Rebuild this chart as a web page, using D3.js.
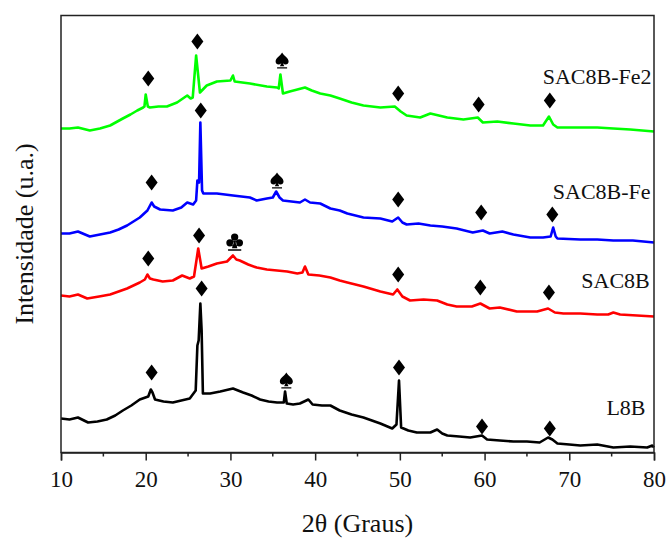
<!DOCTYPE html>
<html>
<head>
<meta charset="utf-8">
<script src="https://cdn.jsdelivr.net/npm/d3@7"></script>
<style>
  body { margin: 0; background: #fff; }
  svg { display: block; }
  text { font-family: "Liberation Serif", "Times New Roman", serif; fill: #111; }
</style>
</head>
<body>
<svg id="chart" width="671" height="539"></svg>
<script>
// 2θ (degrees) vs intensity (arbitrary units, offset per pattern as in the figure)
const l8b = [[10,34],[11,33],[12,35],[13.2,30],[14.3,31],[15.4,33],[16.4,37],[17.3,42],[18.3,47],[19.3,53],[20.3,56],[20.6,63],[20.8,60],[21.1,53],[22.1,51],[23.2,50],[24.2,52],[25.2,54],[25.9,62],[26.1,107],[26.25,112],[26.45,149],[26.6,122],[26.75,59],[27.6,59],[28.8,61],[30.3,64],[31.5,60],[32.5,57],[33.5,53],[34.5,51],[35.5,50],[36.3,50],[36.45,61],[36.65,49],[37.4,48],[38.2,49],[39.2,53],[39.7,48],[40.8,47],[41.8,47],[42.9,42],[44.3,38],[45.7,35],[46.7,32],[47.7,29],[49.1,24],[49.6,28],[49.9,72],[50.15,25],[51,22],[52,20],[53.6,20],[54.4,23],[55,19],[55.6,17],[57,16],[58.3,15],[59.7,17],[60.3,13],[61.8,12],[63.4,11],[65,11],[66.5,10],[67.5,15],[68,13],[68.6,9],[70,8],[71.3,7],[73.3,8],[75.2,5],[77.2,6],[79.2,5],[79.8,7],[80,5]];

const sac8b = [[10,157],[11,156],[12,158],[13.1,154],[14.5,156],[15.8,158],[16.8,161],[17.8,164],[19.3,170],[19.9,173],[20.2,178],[20.5,174],[20.9,173],[22,171],[23.2,172],[24.3,177],[25.2,174],[25.7,176],[26.2,204],[26.6,184],[27.4,186],[28.4,189],[29.6,191],[30.3,197],[30.7,193],[31.1,192],[32.1,188],[33.1,185],[34.3,183],[35.5,182],[36.7,181],[37.9,179],[38.5,180],[38.8,186],[39.2,178],[40.5,177],[41.8,175],[42.9,172],[43.8,170],[45.7,166],[47.7,161],[49.2,158],[49.7,163],[50.3,156],[51.2,152],[52.8,153],[54.4,152],[55.6,148],[56.7,146],[58.5,146],[59.5,149],[60.6,144],[61.8,145],[63.8,141],[66.2,141],[67.5,144],[68.3,140],[69.3,139],[71.3,139],[73.3,138],[74.6,138],[75.2,140],[76,138],[78,137],[80,136]];

const sac8bFe = [[10,219],[11,219],[12,221],[13.4,216],[14.6,218],[15.8,220],[16.8,223],[17.8,227],[19.3,235],[20.2,242],[20.7,250],[21,246],[21.7,243],[23.2,242],[24.2,245],[24.9,250],[25.6,248],[25.95,252],[26.1,272],[26.3,270],[26.45,330],[26.65,262],[26.8,259],[28.4,259],[30.3,257],[32.3,255],[33.1,252],[34.3,254],[35,255],[35.4,261],[35.8,255],[36.2,252],[38.2,250],[38.8,253],[39.4,250],[40.6,249],[41.8,244],[42.9,242],[43.8,239],[45.7,235],[47.7,234],[49.1,231],[49.8,235],[50.3,230],[50.8,228],[52.2,229],[53.6,227],[55,226],[56.7,224],[58.6,220],[59.8,222],[60.6,219],[62.1,221],[63.4,218],[65.4,215],[66.9,215],[67.8,216],[68.1,225],[68.4,216],[68.6,214],[71.3,213],[73.3,213],[75.2,212],[77.5,212],[80,210]];

const sac8bFe2 = [[10,324],[11,324],[12,325],[13.4,322],[14.6,324],[15.8,327],[17.3,334],[18.2,338],[19,342],[19.7,345],[19.85,346],[20,358],[20.25,346],[20.5,345],[21.5,346],[22.5,346],[23.7,350],[24.9,357],[25.3,354],[25.55,355],[25.95,397],[26.4,360],[27.2,367],[28.4,371],[30,372],[30.3,377],[30.5,371],[32.3,369],[34.3,366],[35.5,365],[35.7,364],[35.9,378],[36.2,359],[37,361],[37.9,363],[38.8,365],[39.6,362],[40.6,359],[41.8,357],[42.9,354],[44.3,350],[45.7,347],[47.7,345],[49.4,346],[50.1,341],[50.8,337],[52.4,335],[53.6,339],[55.6,335],[57.5,333],[59.2,335],[59.8,330],[61.5,331],[63.4,329],[65.4,327],[66.9,327],[67.6,336],[68.1,328],[68.6,325],[71.3,325],[73.3,325],[75.2,324],[77.2,323],[80,321]];

const seriesNames = ["L8B", "SAC8B", "SAC8B-Fe", "SAC8B-Fe2"];
const seriesData = [l8b, sac8b, sac8bFe, sac8bFe2];
const seriesColors = ["#000000", "#ff0000", "#0000ff", "#00ff00"];

// phase markers: [2θ, height, symbol]  d = diamond, s = spade, c = club
const markers = [
  [20.7,80,"d"],[26.6,164,"d"],[36.6,72,"s"],[49.9,85,"d"],[59.7,26,"d"],[67.7,24,"d"],
  [20.3,194,"d"],[26.3,217,"d"],[30.5,211,"c"],[49.8,178,"d"],[59.5,165,"d"],[67.6,160,"d"],
  [20.7,270,"d"],[26.5,342,"d"],[35.5,272,"s"],[49.8,253,"d"],[59.6,240,"d"],[68.0,238,"d"],
  [20.3,374,"d"],[26.1,411,"d"],[36.1,392,"s"],[49.8,359,"d"],[59.3,348,"d"],[67.7,352,"d"]
];

// label anchors (2θ of right edge, height of baseline)
const labelPos = [[79.0,38],[79.5,165],[79.6,254],[79.7,369]];

const xTicks = [10,20,30,40,50,60,70,80];
const xMinor = [15,25,35,45,55,65,75];

const svg = d3.select("#chart");
const margin = {top: 15.5, left: 61, right: 17, bottom: 86.5};
const W = 671, H = 539;

const x = d3.scaleLinear().domain([10, 80]).range([margin.left, W - margin.right]);
const y = d3.scaleLinear().domain([0, 437]).range([H - margin.bottom, margin.top]);

const line = d3.line().x(d => x(d[0])).y(d => y(d[1]));

svg.selectAll("path.pattern").data(seriesData)
  .enter().append("path")
    .attr("class", "pattern")
    .attr("d", line)
    .attr("fill", "none")
    .attr("stroke", (d, i) => seriesColors[i])
    .attr("stroke-width", 2.6)
    .attr("stroke-linejoin", "round");

// frame
svg.append("rect")
  .attr("x", x(10)).attr("y", y(437))
  .attr("width", x(80) - x(10)).attr("height", y(0) - y(437))
  .attr("fill", "none").attr("stroke", "#222").attr("stroke-width", 1.5);

const xAxis = svg.append("g")
  .attr("transform", "translate(0," + y(0) + ")")
  .call(d3.axisBottom(x).tickValues(xTicks).tickSize(8).tickFormat(d3.format("d")));
xAxis.select(".domain").attr("stroke", "#222").attr("stroke-width", 1.5);
xAxis.selectAll(".tick line").attr("stroke", "#222").attr("stroke-width", 1.5);
xAxis.selectAll(".tick text")
  .attr("y", 34).attr("dy", 0)
  .style("font-family", "'Liberation Serif', 'Times New Roman', serif")
  .style("font-size", "23px").attr("fill", "#111");

svg.append("g")
  .attr("transform", "translate(0," + y(0) + ")")
  .selectAll("line").data(xMinor)
  .enter().append("line")
    .attr("x1", d => x(d)).attr("x2", d => x(d))
    .attr("y1", 0).attr("y2", 4)
    .attr("stroke", "#222").attr("stroke-width", 1.5);

// marker shapes, drawn as paths so no emoji font gets picked
const shapes = {
  d: "M0,-8L6,0L0,8L-6,0Z",
  s: "M0,-8C-2,-4.5 -6.5,-2.5 -6.5,1C-6.5,4 -3,5 -0.8,2.8L-2.2,5.8L2.2,5.8L0.8,2.8C3,5 6.5,4 6.5,1C6.5,-2.5 2,-4.5 0,-8Z" +
     "M-5,6.8L5,6.8L5,8L-5,8Z",
  c: "M-3.3,-4a3.3,3.3 0 1,0 6.6,0a3.3,3.3 0 1,0 -6.6,0Z" +
     "M-7.6,1.2a3.3,3.3 0 1,0 6.6,0a3.3,3.3 0 1,0 -6.6,0Z" +
     "M1,1.2a3.3,3.3 0 1,0 6.6,0a3.3,3.3 0 1,0 -6.6,0Z" +
     "M-1,-1L1,-1L2.4,6.2L-2.4,6.2Z" +
     "M-6,7L6,7L6,8.3L-6,8.3Z"
};

svg.selectAll("path.marker").data(markers)
  .enter().append("path")
    .attr("class", "marker")
    .attr("d", d => shapes[d[2]])
    .attr("transform", d => "translate(" + x(d[0]) + "," + y(d[1]) + ")" + (d[2] === "c" ? " scale(1.1)" : ""))
    .attr("fill", "#000");

// series labels
svg.selectAll("text.label").data(seriesNames)
  .enter().append("text")
    .attr("class", "label")
    .attr("x", (d, i) => x(labelPos[i][0]))
    .attr("y", (d, i) => y(labelPos[i][1]))
    .attr("text-anchor", "end")
    .style("font-size", "22px")
    .text(d => d);

// axis titles
svg.append("text")
  .attr("x", (x(10) + x(80)) / 2).attr("y", 532)
  .attr("text-anchor", "middle")
  .style("font-size", "26px")
  .text("2\u03b8 (Graus)");

svg.append("text")
  .attr("transform", "translate(33," + ((y(0) + y(437)) / 2) + ") rotate(-90)")
  .attr("text-anchor", "middle")
  .style("font-size", "26px")
  .text("Intensidade (u.a.)");
</script>
</body>
</html>
